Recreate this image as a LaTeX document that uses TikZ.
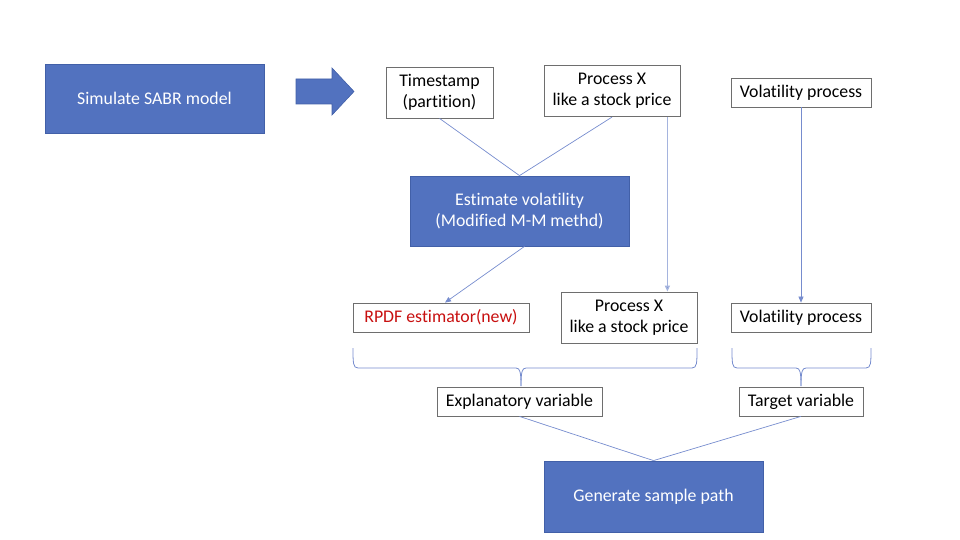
\documentclass[tikz,border=0pt]{standalone}
\usepackage{fontspec}
\setmainfont[Ligatures=NoCommon]{Carlito}
\usetikzlibrary{arrows.meta}
\definecolor{boxblue}{RGB}{82,114,191}
\definecolor{boxblueedge}{RGB}{66,96,168}
\definecolor{linkblue}{RGB}{118,140,206}
\definecolor{paleblue}{RGB}{165,180,222}
\definecolor{edgegray}{RGB}{110,110,110}
\definecolor{redtext}{RGB}{200,16,16}
\newcommand{\mybrace}[4]{% left x, right x, tip x, top y
  \draw[bracestyle] (#1,#4) .. controls (#1,#4+15) and (#1,#4+20) .. (#1+5,#4+20)
     -- (#3-5,#4+20) .. controls (#3-1,#4+20) and (#3,#4+24) .. (#3,#4+38);
  \draw[bracestyle] (#2,#4) .. controls (#2,#4+15) and (#2,#4+20) .. (#2-5,#4+20)
     -- (#3+5,#4+20) .. controls (#3+1,#4+20) and (#3,#4+24) .. (#3,#4+38);}
\begin{document}
\begin{tikzpicture}[x=1pt,y=-1pt,
  every node/.style={font=\fontsize{17.8}{21}\selectfont, inner sep=0pt, align=center},
  bluebox/.style={fill=boxblue, draw=boxblueedge, line width=0.8pt, text=white},
  whitebox/.style={fill=white, draw=edgegray, line width=0.8pt, text=black},
  link/.style={draw=linkblue, line width=0.7pt},
  linkarrow/.style={link, -{Triangle[length=6pt,width=5pt]}},
  bracestyle/.style={draw=linkblue, line width=0.8pt, line join=round}]
\useasboundingbox (0,0) rectangle (960,540);

% nodes
\node[bluebox, minimum width=219, minimum height=69] (sim) at (154.5,98.5) {Simulate SABR model};
\node[whitebox, minimum width=107, minimum height=51] (ts) at (439.5,92.5) {Timestamp\\(partition)};
\node[whitebox, minimum width=136, minimum height=51] (px1) at (612,91.2) {Process X\\like a stock price};
\node[whitebox, minimum width=140, minimum height=29] (vp1) at (801,92.5) {Volatility process};
\node[bluebox, minimum width=219, minimum height=70] (est) at (519.5,211) {Estimate volatility\\(Modified M-M methd)};
\node[whitebox, minimum width=176, minimum height=29, text=redtext] (rpdf) at (441,317.5) {RPDF estimator(new)};
\node[whitebox, minimum width=136, minimum height=51] (px2) at (629,317.5) {Process X\\like a stock price};
\node[whitebox, minimum width=140, minimum height=29] (vp2) at (801,317.5) {Volatility process};
\node[whitebox, minimum width=165, minimum height=29] (expl) at (519.5,401.5) {Explanatory variable};
\node[whitebox, minimum width=124, minimum height=29] (targ) at (801,401.5) {Target variable};
\node[bluebox, minimum width=219, minimum height=71] (gen) at (653.5,496.5) {Generate sample path};

% block arrow
\fill[boxblue, draw=boxblueedge, line width=0.6pt]
  (296,79) -- (332,79) -- (332,68) -- (354,91.5) -- (332,115) -- (332,104) -- (296,104) -- cycle;

% connectors
\draw[link] (ts.south) -- (est.north);
\draw[link] (px1.south) -- (est.north);
\draw[linkarrow] ([xshift=5pt]est.south) -- ([xshift=4pt]rpdf.north);
\coordinate (pxdrop) at ([xshift=-13pt]px1.south east);
\draw[draw=paleblue, line width=1.3pt, -{Triangle[length=6pt,width=5pt,fill=linkblue]}] (pxdrop) -- (pxdrop |- px2.north);
\draw[linkarrow] (vp1.south) -- (vp2.north);
\draw[link] (expl.south) -- (gen.north);
\draw[link] (targ.south) -- (gen.north);

% braces
\mybrace{353}{697}{521}{348}
\mybrace{732}{871}{801}{348}
\end{tikzpicture}
\end{document}
